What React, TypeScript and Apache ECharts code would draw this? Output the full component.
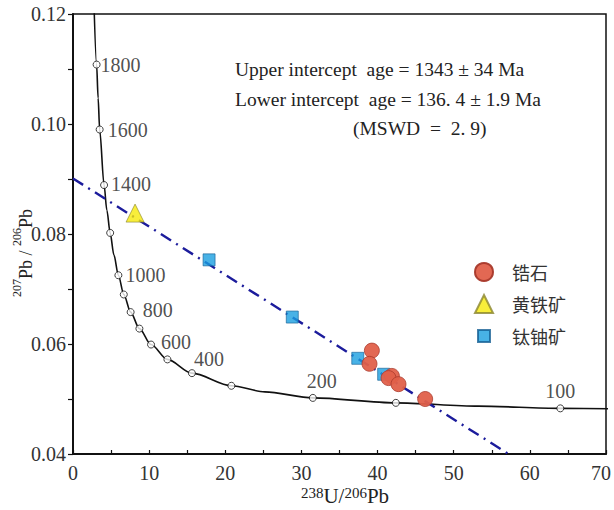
import React, { useEffect, useRef } from "react";
import * as echarts from "echarts";

// Concordia curve (Tera-Wasserburg), ages in Ma
const concordiaAgeMa = [2000, 1800, 1700, 1600, 1400, 1300, 1200, 1100, 1000, 900, 800, 700, 600, 500, 400, 300, 250, 200, 150, 120, 100, 90];
const concordiaU238Pb206 = [2.72, 3.1, 3.3, 3.5, 4.08, 4.45, 4.88, 5.37, 5.96, 6.67, 7.57, 8.72, 10.25, 12.4, 15.62, 20.8, 25.2, 31.5, 42.4, 53.2, 64.0, 71.1];
const concordiaPb207Pb206 = [0.1235, 0.1108, 0.1047, 0.099, 0.0889, 0.0843, 0.0802, 0.0762, 0.0725, 0.069, 0.0658, 0.0628, 0.0599, 0.0572, 0.0547, 0.0524, 0.0513, 0.0502, 0.0493, 0.0487, 0.0483, 0.0482];

// Age ticks marked on the concordia, and the ones that carry a label
const markerAges = [1800, 1600, 1400, 1200, 1000, 900, 800, 700, 600, 500, 400, 300, 200, 150, 100];
const labeledAges = [1800, 1600, 1400, 1000, 800, 600, 400, 200, 100];

// Discordia line end points
const discordiaU = [0, 57.2];
const discordiaPb = [0.0901, 0.04];

// Samples
const zirconU = [39.25, 38.94, 41.88, 41.44, 42.75, 46.25];
const zirconPb = [0.0588, 0.0564, 0.0542, 0.0538, 0.0527, 0.05];
const pyriteU = [8.15];
const pyritePb = [0.0838];
const brannerU = [17.87, 28.8, 37.4, 40.8];
const brannerPb = [0.0753, 0.0649, 0.0574, 0.0545];

const seriesNames = ["锆石", "黄铁矿", "钛铀矿"];
const xTicks = { min: 0, max: 70, interval: 10 };
const yTicks = { min: 0.04, max: 0.12, interval: 0.02 };

const annotationLines = [
  "Upper intercept  age = 1343 ± 34 Ma",
  "Lower intercept  age = 136. 4 ± 1.9 Ma",
  "(MSWD  =  2. 9)",
];

const SERIF = "'Liberation Serif', 'DejaVu Serif', serif";
const CJK = "'Noto Sans CJK SC', sans-serif";

const labelStyle: Record<number, any> = {
  1800: { position: "right", offset: [-3, 0] },
  1600: { position: "right", offset: [1, 0] },
  1400: { position: "right", offset: [0, -1] },
  1000: { position: "right", offset: [0, 0] },
  800: { position: "right", offset: [5, -2] },
  600: { position: "right", offset: [3, -3] },
  400: { position: "right", offset: [-5, -14] },
  200: { position: "top", offset: [9, 0] },
  100: { position: "top", offset: [0, 0] },
};

const zip = (a: number[], b: number[]) => a.map((v, i) => [v, b[i]]);

export default function App() {
  const ref = useRef<HTMLDivElement>(null);
  useEffect(() => {
    if (!ref.current) return;
    const chart = echarts.init(ref.current, undefined, { renderer: "svg" });

    const markerData = markerAges.map((age) => {
      const i = concordiaAgeMa.indexOf(age);
      const item: any = { value: [concordiaU238Pb206[i], concordiaPb207Pb206[i]], name: String(age) };
      if (labeledAges.includes(age)) {
        item.label = {
          show: true,
          formatter: String(age),
          ...labelStyle[age],
          distance: 3,
          fontFamily: SERIF,
          fontSize: 20,
          color: "#222",
        };
      }
      return item;
    });

    const richY = {
      sup: { fontSize: 12, lineHeight: 12, verticalAlign: "top", fontFamily: SERIF, fill: "#222" },
      base: { fontSize: 18, lineHeight: 24, verticalAlign: "bottom", fontFamily: SERIF, fill: "#222" },
    };
    const richX = {
      sup: { fontSize: 15, lineHeight: 14, verticalAlign: "top", fontFamily: SERIF, fill: "#222" },
      base: { fontSize: 21, lineHeight: 21, verticalAlign: "bottom", fontFamily: SERIF, fill: "#222" },
    };

    chart.setOption({
      animation: false,
      backgroundColor: "#fff",
      grid: {
        left: 73, right: 8, top: 14, bottom: 56,
        outerBoundsMode: "none",
        containLabel: false,
        show: true, borderColor: "#111", borderWidth: 1.5, backgroundColor: "transparent",
      },
      xAxis: {
        type: "value",
        ...xTicks,
        axisLine: { show: true, lineStyle: { color: "#111", width: 2 } },
        axisTick: { show: true, inside: true, length: 4, lineStyle: { color: "#111", width: 1.2 } },
        minorTick: { show: true, splitNumber: 2, length: 4, lineStyle: { color: "#111", width: 1.2 } },
        axisLabel: {
          fontFamily: SERIF, fontSize: 20, color: "#333", margin: 9,
          formatter: (v: number) => (v === xTicks.max ? `{last|${v}}` : String(v)),
          rich: { last: { fontFamily: SERIF, fontSize: 20, color: "#333", padding: [0, 10, 0, 0] } },
        },
        splitLine: { show: false },
      },
      yAxis: {
        type: "value",
        ...yTicks,
        axisLine: { show: true, lineStyle: { color: "#111", width: 2 } },
        axisTick: { show: true, inside: false, length: 5, lineStyle: { color: "#111", width: 1.2 } },
        minorTick: { show: true, splitNumber: 2, length: 5, lineStyle: { color: "#111", width: 1.2 } },
        axisLabel: { fontFamily: SERIF, fontSize: 20, color: "#333", margin: 7, formatter: (v: number) => v.toFixed(2) },
        splitLine: { show: false },
      },
      legend: {
        orient: "vertical",
        left: 469,
        top: 257,
        itemWidth: 18,
        itemHeight: 18,
        itemGap: 12,
        data: [
          { name: seriesNames[0] },
          { name: seriesNames[1] },
          { name: seriesNames[2], icon: "path://M0,0M3,3L15,3L15,15L3,15ZM18,18" },
        ],
        textStyle: { fontFamily: CJK, fontSize: 18, color: "#333", lineHeight: 19, padding: [0, 0, 0, 14] },
      },
      graphic: [
        ...annotationLines.map((t, i) => ({
          type: "text",
          left: i === 2 ? 353 : 235,
          top: [59, 89, 118][i],
          style: { text: t, font: `19.5px ${SERIF}`, fill: "#222" },
        })),
        {
          type: "text",
          x: 23,
          y: 253,
          rotation: Math.PI / 2,
          style: {
            text: "{sup|207}{base|Pb / }{sup|206}{base|Pb}",
            rich: richY,
            align: "center",
            verticalAlign: "middle",
          },
        },
        {
          type: "text",
          x: 345,
          y: 496,
          style: {
            text: "{sup|238}{base|U/}{sup|206}{base|Pb}",
            rich: richX,
            align: "center",
            verticalAlign: "middle",
          },
        },
      ],
      series: [
        {
          type: "line",
          data: zip(concordiaU238Pb206, concordiaPb207Pb206),
          smooth: 0.3,
          smoothMonotone: "x",
          symbol: "none",
          clip: true,
          lineStyle: { color: "#111", width: 1.6 },
          silent: true,
          z: 2,
        },
        {
          type: "line",
          data: zip(discordiaU, discordiaPb),
          symbol: "none",
          clip: true,
          lineStyle: { color: "#1c1c9c", width: 2.4, type: [12, 6, 2, 6] },
          silent: true,
          z: 3,
        },
        {
          type: "scatter",
          data: markerData,
          symbol: "circle",
          symbolSize: 7,
          itemStyle: { color: "#fff", borderColor: "#111", borderWidth: 1 },
          label: { show: false },
          z: 4,
        },
        {
          name: seriesNames[2],
          type: "scatter",
          data: zip(brannerU, brannerPb),
          symbol: "rect",
          symbolSize: 12,
          itemStyle: { color: "#1a9fe0", borderColor: "#155f94", borderWidth: 0.8 },
          z: 5,
        },
        {
          name: seriesNames[1],
          type: "scatter",
          data: zip(pyriteU, pyritePb),
          symbol: "triangle",
          symbolSize: 18,
          itemStyle: { color: "#f6ea0a", borderColor: "#8a8430", borderWidth: 0.8 },
          z: 5,
        },
        {
          name: seriesNames[0],
          type: "scatter",
          data: zip(zirconU, zirconPb),
          symbol: "circle",
          symbolSize: 15,
          itemStyle: { color: "#e0604a", borderColor: "#a8382a", borderWidth: 0.8, opacity: 0.95 },
          z: 6,
        },
      ],
    });
    return () => chart.dispose();
  }, []);
  return <div ref={ref} style={{ width: 614, height: 510, position: "absolute", left: 0, top: 0 }} />;
}
